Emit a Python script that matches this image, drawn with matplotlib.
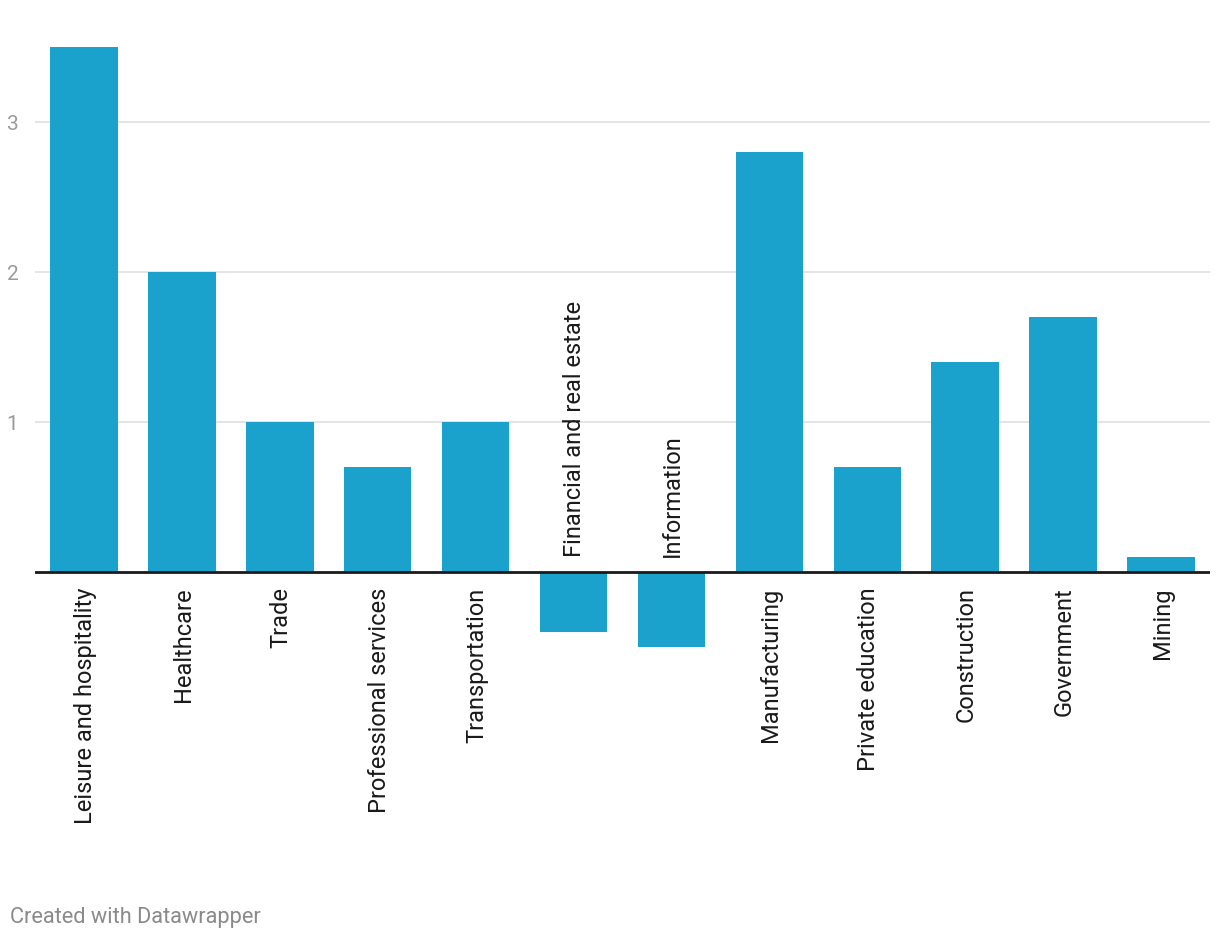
import matplotlib.pyplot as plt
import numpy as np

plt.rcParams['font.family'] = ['Roboto', 'DejaVu Sans']

# sectors and their values
sectors = ['Leisure and hospitality', 'Healthcare', 'Trade', 'Professional services',
           'Transportation', 'Financial and real estate', 'Information', 'Manufacturing',
           'Private education', 'Construction', 'Government', 'Mining']
values = [3.5, 2.0, 1.0, 0.7, 1.0, -0.4, -0.5, 2.8, 0.7, 1.4, 1.7, 0.1]
y_ticks = [1, 2, 3]

fig = plt.figure(figsize=(12.2, 9.4), dpi=100)
ax = fig.add_axes([35 / 1220, 1 - 647 / 940, 1175 / 1220, 600 / 940])

x = np.arange(len(sectors))
ax.bar(x, values, width=0.69, color='#1aa1cc', zorder=2)

ax.set_xlim(-0.5, len(sectors) - 0.5)
ax.set_ylim(-0.5, 3.5)

# grid lines
for t in y_ticks:
    ax.axhline(t, color='#e2e2e2', lw=1.3, zorder=1)
ax.axhline(0, color='#1a1a1a', lw=2, zorder=3)

ax.set_yticks(y_ticks)
ax.set_yticklabels([str(t) for t in y_ticks], color='#9a9a9a', fontsize=15)
ax.tick_params(axis='y', length=0, pad=12)
ax.set_xticks([])
for s in ax.spines.values():
    s.set_visible(False)

# category labels: below zero for positive, above for negative
for i, (name, v) in enumerate(zip(sectors, values)):
    if v >= 0:
        ax.annotate(name, (i, 0), xytext=(1, -11), textcoords='offset points',
                    rotation=90, ha='center', va='top', fontsize=17, color='#1a1a1a',
                    annotation_clip=False)
    else:
        ax.annotate(name, (i, 0), xytext=(1, 11), textcoords='offset points',
                    rotation=90, ha='center', va='bottom', fontsize=17, color='#1a1a1a',
                    annotation_clip=False)

fig.text(10 / 1220, 1 - 918 / 940, 'Created with Datawrapper', color='#8a8a8a',
         fontsize=15.7, ha='left', va='center')

plt.savefig('out.png', dpi=100)
